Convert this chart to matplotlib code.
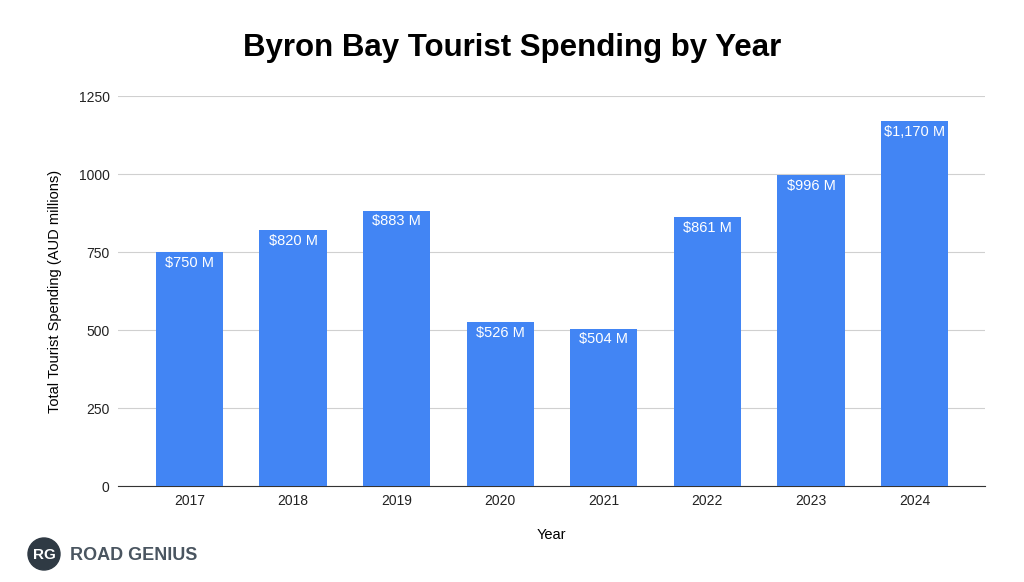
import matplotlib
matplotlib.use("Agg")
import matplotlib.pyplot as plt
from matplotlib.patches import Circle

years = ["2017", "2018", "2019", "2020", "2021", "2022", "2023", "2024"]
values = [750, 820, 883, 526, 504, 861, 996, 1170]
labels = ["$750 M", "$820 M", "$883 M", "$526 M", "$504 M", "$861 M", "$996 M", "$1,170 M"]
yticks = [0, 250, 500, 750, 1000, 1250]

plt.rcParams['font.family'] = ['Liberation Sans', 'DejaVu Sans']
fig = plt.figure(figsize=(10.24, 5.82), dpi=100)
ax = fig.add_axes([118/1024, 1-486/582, (985-118)/1024, (486-96)/582])
x = range(len(years))
bars = ax.bar(x, values, width=0.65, color="#4285F4", zorder=3)
for xi, v, l in zip(x, values, labels):
    ax.text(xi, v - 12, l.replace("$", r"\$"), ha="center", va="top", color="white", fontsize=10.5, zorder=4)
ax.set_xticks(list(x))
ax.set_xticklabels(years, fontsize=10)
ax.set_yticks(yticks)
ax.set_yticklabels([str(t) for t in yticks], fontsize=10)
ax.set_ylim(0, 1250)
ax.set_xlim(-0.69, len(years) - 1 + 0.68)
ax.grid(axis="y", color="#d0d0d0", linewidth=0.8, zorder=0)
for s in ["top", "right", "left"]:
    ax.spines[s].set_visible(False)
ax.spines["bottom"].set_color("#333333")
ax.tick_params(length=0, pad=6, colors="#222222")
ax.set_xlabel("Year", fontsize=10.5, labelpad=14)
ax.set_ylabel("Total Tourist Spending (AUD millions)", fontsize=10.5, labelpad=12)
fig.text(0.5, 1-48/582, "Byron Bay Tourist Spending by Year", ha="center", va="center",
         fontsize=22.5, fontweight="bold")
# logo
fax = fig.add_axes([0, 0, 1, 1], facecolor="none")
fax.set_xlim(0, 1024); fax.set_ylim(582, 0); fax.axis("off")
fax.set_aspect("equal")
fax.add_patch(Circle((44, 554), 16, color="#2f3a44"))
fax.text(44, 555, "RG", ha="center", va="center", color="white", fontsize=11, fontweight="bold")
fax.text(70, 555, "ROAD GENIUS", ha="left", va="center", color="#4a5560", fontsize=13, fontweight="bold")
fig.savefig("out.png", dpi=100)
